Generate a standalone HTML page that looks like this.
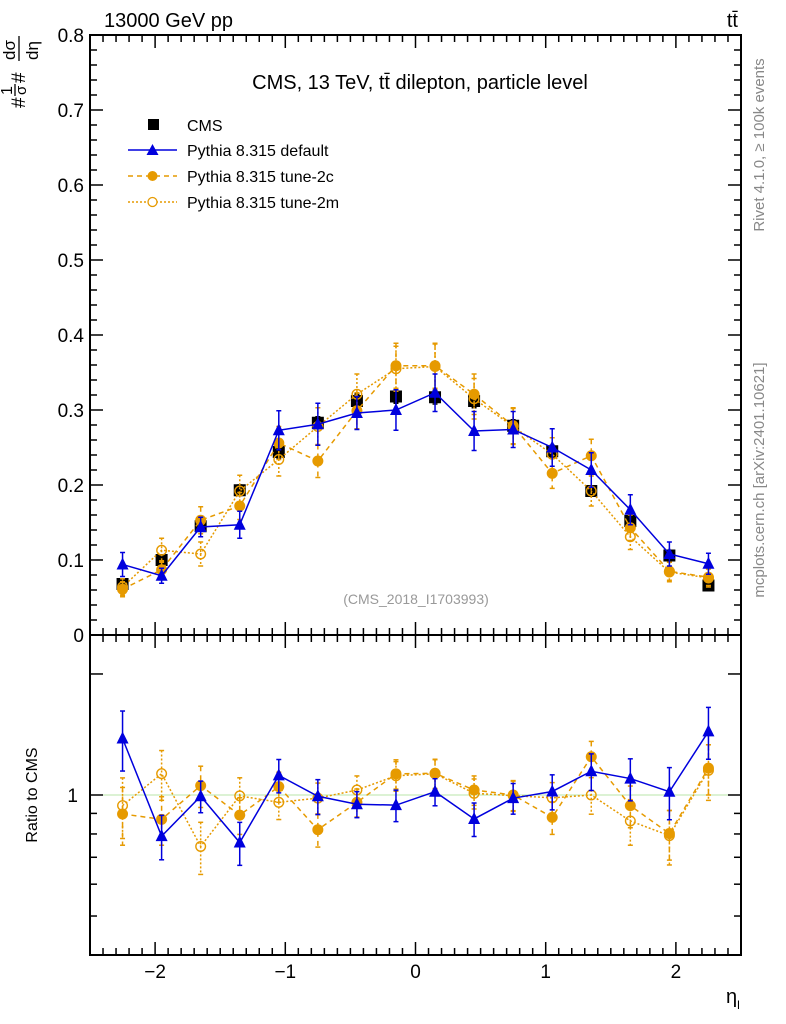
<!DOCTYPE html>
<html><head><meta charset="utf-8">
<style>
html,body{margin:0;padding:0;background:#fff;}
svg{display:block;font-family:"Liberation Sans",sans-serif;}
</style></head>
<body>
<svg id="chart" width="786" height="1024" viewBox="0 0 786 1024" xmlns="http://www.w3.org/2000/svg">
<g id="axes"></g>
<g id="marks"></g>
<text x="104" y="27" font-size="20">13000 GeV pp</text>
<text x="738" y="27" font-size="20" text-anchor="end">tt̄</text>
<text x="420" y="89" font-size="20" text-anchor="middle">CMS, 13 TeV, tt̄ dilepton, particle level</text>
<text x="416" y="604" font-size="14" fill="#999" text-anchor="middle">(CMS_2018_I1703993)</text>
<text transform="translate(764,145) rotate(-90)" font-size="15" fill="#888" text-anchor="middle">Rivet 4.1.0, ≥ 100k events</text>
<text transform="translate(764,480) rotate(-90)" font-size="15" fill="#888" text-anchor="middle">mcplots.cern.ch [arXiv:2401.10621]</text>
<g transform="rotate(-90)">
<text x="-108" y="25" font-size="19">#</text>
<text x="-95" y="12" font-size="16">1</text>
<line x1="-96" x2="-84" y1="15" y2="15" stroke="#000" stroke-width="1.3"/>
<text x="-95" y="26" font-size="15">σ</text>
<text x="-83" y="25" font-size="19">#</text>
<text x="-60" y="15" font-size="17">dσ</text>
<line x1="-61" x2="-36" y1="19" y2="19" stroke="#000" stroke-width="1.3"/>
<text x="-60" y="38" font-size="17">dη</text>
</g>
<text transform="translate(37,795) rotate(-90)" font-size="16" text-anchor="middle">Ratio to CMS</text>
<text x="726" y="1003" font-size="20">η<tspan font-size="12" dy="6">l</tspan></text>
<g id="legend">
<rect x="148" y="119" width="11" height="11" fill="#000"/>
<text x="187" y="131" font-size="16">CMS</text>
<line x1="128" y1="150" x2="177" y2="150" stroke="#0000dd" stroke-width="1.5"/>
<path d="M146.5,155 L152.5,144 L158.5,155Z" fill="#0000dd"/>
<text x="187" y="156" font-size="16">Pythia 8.315 default</text>
<line x1="128" y1="176" x2="177" y2="176" stroke="#e69a00" stroke-width="1.5" stroke-dasharray="5,4"/>
<circle cx="152.5" cy="176" r="5" fill="#e69a00"/>
<text x="187" y="182" font-size="16">Pythia 8.315 tune-2c</text>
<line x1="128" y1="202" x2="177" y2="202" stroke="#e69a00" stroke-width="1.5" stroke-dasharray="2,2"/>
<circle cx="152.5" cy="202" r="4.5" fill="#fff" stroke="#e69a00" stroke-width="1.3"/>
<text x="187" y="208" font-size="16">Pythia 8.315 tune-2m</text>
</g>
</svg>
<script>
const binCenters=[-2.25,-1.95,-1.65,-1.35,-1.05,-0.75,-0.45,-0.15,0.15,0.45,0.75,1.05,1.35,1.65,1.95,2.25];
const cmsValues=[0.068,0.100,0.145,0.193,0.244,0.283,0.312,0.318,0.317,0.312,0.279,0.245,0.192,0.152,0.106,0.066];
const cmsErrors=[0.004,0.005,0.006,0.007,0.008,0.008,0.009,0.009,0.009,0.009,0.008,0.008,0.007,0.006,0.005,0.004];
const defaultValues=[0.094,0.079,0.144,0.147,0.273,0.281,0.296,0.300,0.323,0.272,0.274,0.250,0.220,0.167,0.108,0.095];
const defaultErrors=[0.016,0.010,0.013,0.018,0.026,0.028,0.022,0.027,0.025,0.026,0.024,0.025,0.023,0.020,0.016,0.014];
const tune2cValues=[0.061,0.087,0.153,0.172,0.256,0.232,0.299,0.359,0.359,0.321,0.279,0.2155,0.239,0.143,0.085,0.077];
const tune2cErrors=[0.010,0.012,0.018,0.018,0.022,0.022,0.024,0.030,0.030,0.027,0.024,0.020,0.022,0.017,0.012,0.011];
const tune2mValues=[0.064,0.113,0.108,0.192,0.234,0.278,0.321,0.355,0.358,0.315,0.278,0.241,0.192,0.131,0.084,0.076];
const tune2mErrors=[0.011,0.016,0.016,0.021,0.022,0.025,0.027,0.030,0.030,0.027,0.024,0.022,0.020,0.017,0.013,0.012];
const yTickLabels=["0","0.1","0.2","0.3","0.4","0.5","0.6","0.7","0.8"];
const xTickLabels=["−2","−1","0","1","2"];
const ratioTicks=[0.5,0.6,0.7,0.8,0.9,1,2];

const NS="http://www.w3.org/2000/svg";
const L=90,R=741,T=35,M=635,B=955;
const xs=v=>L+(v+2.5)/5*(R-L);
const ys=v=>M-v/0.8*(M-T);
const rs=v=>795-Math.log(v)*174.6;
function mk(parent,tag,attrs){const e=document.createElementNS(NS,tag);for(const k in attrs)e.setAttribute(k,attrs[k]);parent.appendChild(e);return e;}
const ax=document.getElementById('axes'), mg=document.getElementById('marks');

let f=mk(ax,'rect',{x:L,y:T,width:R-L,height:M-T,fill:'none',stroke:'#000','stroke-width':2});


f=mk(ax,'rect',{x:L,y:M,width:R-L,height:B-M,fill:'none',stroke:'#000','stroke-width':2});


let rl=mk(ax,'line',{x1:L,x2:R,y1:rs(1),y2:rs(1),stroke:'#b8e6a8','stroke-width':1});



for(let i=0;i<=40;i++){const v=i*0.02,y=ys(v),len=(i%5==0)?13:7;
 mk(ax,'line',{x1:L,x2:L+len,y1:y,y2:y,stroke:'#000','stroke-width':1.5});
 mk(ax,'line',{x1:R,x2:R-len,y1:y,y2:y,stroke:'#000','stroke-width':1.5});}
yTickLabels.forEach((s,i)=>{const t=mk(ax,'text',{x:L-6,y:ys(i*0.1)+7,'font-size':19,'text-anchor':'end'});t.textContent=s;
 
 });
for(let i=-25;i<=25;i++){const x=xs(i/10),maj=(i%10==0),len=maj?13:7;
 [[M,-1],[T,1],[B,-1],[M,1]].forEach(([y0,d])=>mk(ax,'line',{x1:x,x2:x,y1:y0,y2:y0+d*len,stroke:'#000','stroke-width':1.5}));}
xTickLabels.forEach((s,i)=>{const t=mk(ax,'text',{x:xs(i-2),y:978,'font-size':19,'text-anchor':'middle'});t.textContent=s;
 
 });
ratioTicks.forEach(v=>{const y=rs(v),len=(v==1||v==2)?13:7;
 mk(ax,'line',{x1:L,x2:L+len,y1:y,y2:y,stroke:'#000','stroke-width':1.5});
 mk(ax,'line',{x1:R,x2:R-len,y1:y,y2:y,stroke:'#000','stroke-width':1.5});});
let one=mk(ax,'text',{x:L-12,y:rs(1)+7,'font-size':19,'text-anchor':'end'});one.textContent='1';



function series(vals,errs,color,dash,marker,name,ratio){
 const g=mk(mg,'g',{});
 
 
 const yf=ratio?(i=>rs(vals[i]/cmsValues[i])):(i=>ys(vals[i]));
 const ef=ratio?(i=>[rs((vals[i]+errs[i])/cmsValues[i]),rs(Math.max(0.41,(vals[i]-errs[i])/cmsValues[i]))]):(i=>[ys(vals[i]+errs[i]),ys(vals[i]-errs[i])]);
 if(marker!='square'){
  const pts=binCenters.map((c,i)=>xs(c)+','+yf(i)).join(' ');
  const pl=mk(g,'polyline',{points:pts,fill:'none',stroke:color,'stroke-width':1.5});
  if(dash)pl.setAttribute('stroke-dasharray',dash);
 }
 binCenters.forEach((c,i)=>{const x=xs(c),y=yf(i),[a,b]=ef(i);
  const el=mk(g,'line',{x1:x,x2:x,y1:a,y2:b,stroke:color,'stroke-width':1.5});
  if(dash)el.setAttribute('stroke-dasharray',dash);
  mk(g,'line',{x1:x-2.5,x2:x+2.5,y1:a,y2:a,stroke:color,'stroke-width':1.5});
  mk(g,'line',{x1:x-2.5,x2:x+2.5,y1:b,y2:b,stroke:color,'stroke-width':1.5});
  let m;
  if(marker=='square')m=mk(g,'rect',{x:x-6,y:y-6,width:12,height:12,fill:'#000'});
  else if(marker=='tri')m=mk(g,'path',{d:`M${x-6},${y+5} L${x},${y-7} L${x+6},${y+5}Z`,fill:color});
  else if(marker=='dot')m=mk(g,'circle',{cx:x,cy:y,r:5.5,fill:color});
  else m=mk(g,'circle',{cx:x,cy:y,r:4.8,fill:'none',stroke:color,'stroke-width':1.4});
  
  
 });
}
series(cmsValues,cmsErrors,'#000',null,'square','cms-data',false);
series(tune2mValues,tune2mErrors,'#e69a00','2,2','ring','tune-2m-series',false);
series(tune2cValues,tune2cErrors,'#e69a00','5,4','dot','tune-2c-series',false);
series(defaultValues,defaultErrors,'#0000dd',null,'tri','default-series',false);
series(tune2mValues,tune2mErrors,'#e69a00','2,2','ring','tune-2m-ratio',true);
series(tune2cValues,tune2cErrors,'#e69a00','5,4','dot','tune-2c-ratio',true);
series(defaultValues,defaultErrors,'#0000dd',null,'tri','default-ratio',true);
</script>
</body></html>
